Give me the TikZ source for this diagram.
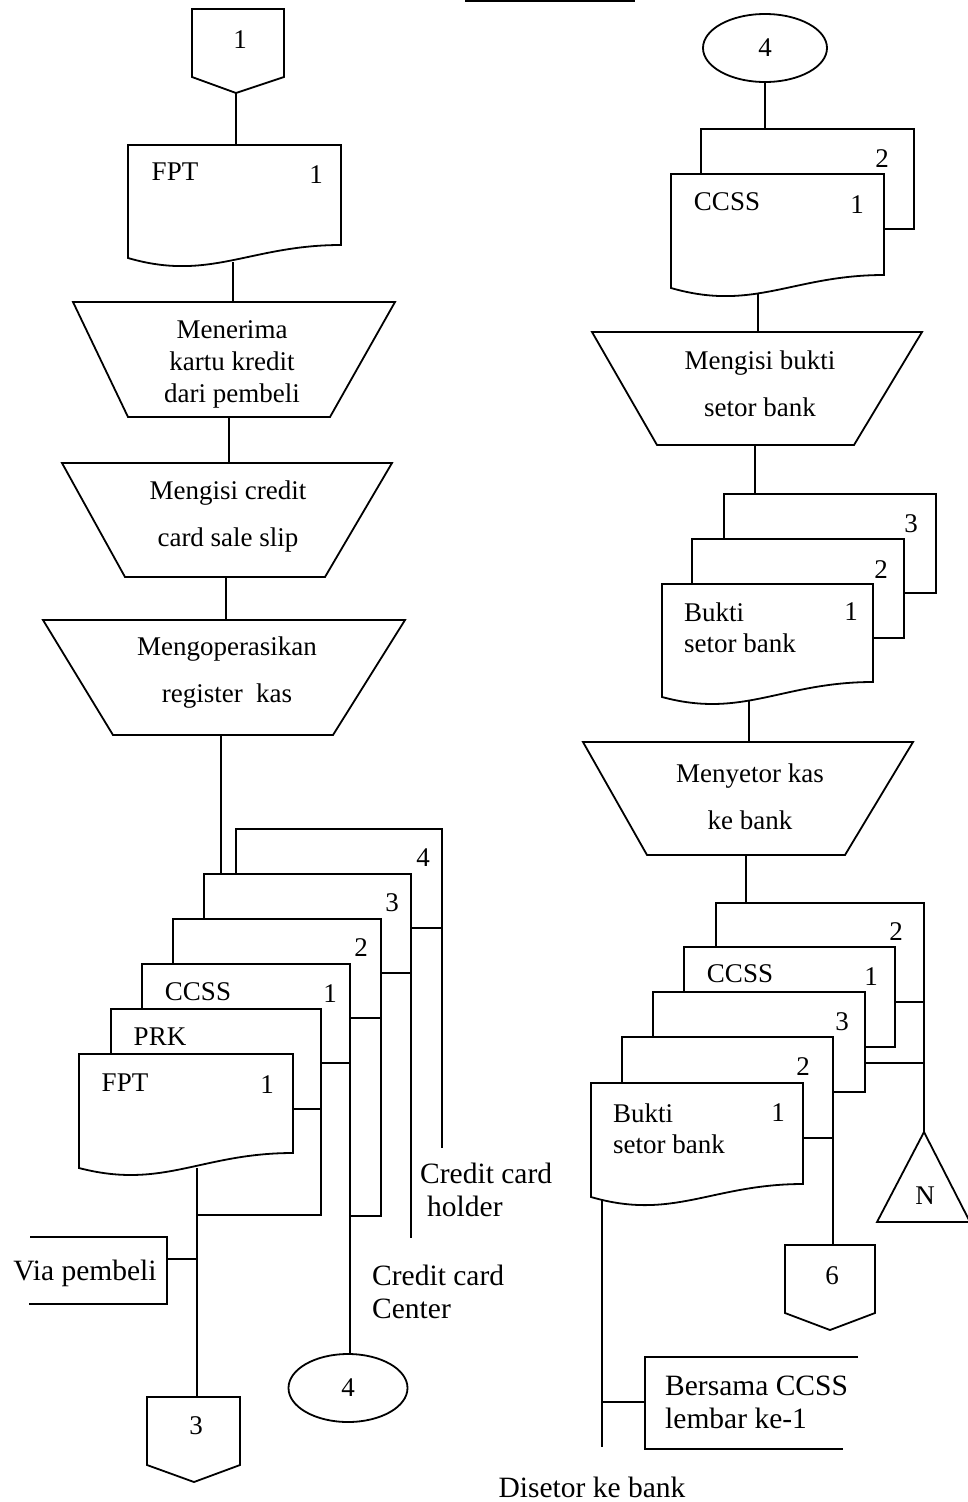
\documentclass[tikz,border=0pt]{standalone}
\usepackage{fontspec}
\setmainfont{Liberation Serif}
\usetikzlibrary{shapes.geometric}
\begin{document}
\begin{tikzpicture}[x=1pt,y=-1pt,
  outline/.style={draw=black, line width=1.8pt, fill=white, line join=miter},
  flow/.style={draw=black, line width=1.8pt},
  lbl/.style={font=\fontsize{27}{32}\selectfont, inner sep=0pt},
  proc/.style={font=\fontsize{27}{47}\selectfont, inner sep=0pt, align=center},
  proctall/.style={font=\fontsize{27}{32}\selectfont, inner sep=0pt, align=center},
  doctext/.style={font=\fontsize{27}{31}\selectfont, inner sep=0pt, align=left, anchor=west},
  note/.style={font=\fontsize{29.5}{33}\selectfont, inner sep=0pt, align=left},
  conn/.style={draw=black, line width=1.8pt, fill=white, ellipse, inner sep=0pt,
               font=\fontsize{27}{32}\selectfont}]
\useasboundingbox[fill=white] (0,0) rectangle (967,1502);

% heading rule at the top edge
\coordinate (rule-a) at (465,1);
\coordinate (rule-b) at (635,1);
\draw[line width=2.5pt] (rule-a) -- (rule-b);

% ---------------- anchor points, left column ----------------
\coordinate (p1-out)  at (236,93);
\coordinate (fa-in)   at (236,145);
\coordinate (fa-out)  at (233,262);
\coordinate (m1-in)   at (233,302);
\coordinate (m1-out)  at (229,417);
\coordinate (m2-in)   at (229,463);
\coordinate (m2-out)  at (226,577);
\coordinate (m3-in)   at (226,620);
\coordinate (m3-out)  at (221,735);
\coordinate (s3-in)   at (221,874);
\coordinate (s4-out)  at (442,928);
\coordinate (s4-end)  at (442,1148);
\coordinate (s3-out)  at (411,973);
\coordinate (s3-end)  at (411,1238);
\coordinate (s2-out)  at (381,1018);
\coordinate (s2-bend) at (381,1216);
\coordinate (s2-join) at (350,1216);
\coordinate (cc-out)  at (350,1063);
\coordinate (prk-out) at (321,1109);
\coordinate (prk-bend) at (321,1215);
\coordinate (prk-join) at (197,1215);
\coordinate (fb-out)  at (197,1168);
\coordinate (via-join) at (197,1259);
\coordinate (via-in)  at (168,1259);
\coordinate (p3-in)   at (197,1397);

% ---------------- anchor points, right column ----------------
\coordinate (cr-in)   at (765,129);
\coordinate (cr-out)  at (758,290);
\coordinate (m4-in)   at (758,332);
\coordinate (m4-out)  at (755,445);
\coordinate (b3-in)   at (755,494);
\coordinate (bm-out)  at (749,700);
\coordinate (m5-in)   at (749,742);
\coordinate (m5-out)  at (746,855);
\coordinate (q2-in)   at (746,903);
\coordinate (q2-out)  at (924,1002);
\coordinate (nN-in)   at (924,1132);
\coordinate (q3-out)  at (865,1063);
\coordinate (q3-join) at (924,1063);
\coordinate (q2b-out) at (833,1138);
\coordinate (p6-in)   at (833,1245);
\coordinate (bk-out)  at (602,1200);
\coordinate (bk-join) at (602,1402);
\coordinate (bk-end)  at (602,1447);
\coordinate (ber-in)  at (645,1402);

% connector ellipses
\node[conn, minimum width=119pt, minimum height=68pt] (e4b) at (348,1388) {4};
\node[conn, minimum width=124pt, minimum height=68pt] (e4a) at (765,48) {4};

% ---------------- flow lines ----------------
\draw[flow] (p1-out) -- (fa-in);
\draw[flow] (fa-out) -- (m1-in);
\draw[flow] (m1-out) -- (m2-in);
\draw[flow] (m2-out) -- (m3-in);
\draw[flow] (m3-out) -- (s3-in);
\draw[flow] (s4-out) -- (s4-end);
\draw[flow] (s3-out) -- (s3-end);
\draw[flow] (s2-out) -- (s2-bend) -- (s2-join);
\draw[flow] (cc-out) -- (cc-out |- e4b.north);
\draw[flow] (prk-out) -- (prk-bend) -- (prk-join);
\draw[flow] (fb-out) -- (p3-in);
\draw[flow] (via-join) -- (via-in);

\draw[flow] (e4a.south) -- (cr-in);
\draw[flow] (cr-out) -- (m4-in);
\draw[flow] (m4-out) -- (b3-in);
\draw[flow] (bm-out) -- (m5-in);
\draw[flow] (m5-out) -- (q2-in);
\draw[flow] (q2-out) -- (nN-in);
\draw[flow] (q3-out) -- (q3-join);
\draw[flow] (q2b-out) -- (p6-in);
\draw[flow] (bk-out) -- (bk-end);
\draw[flow] (bk-join) -- (ber-in);

% ---------------- left column shapes ----------------
% off-page connector 1
\draw[outline] (192,9) -- (284,9) -- (284,77) -- (p1-out) -- (192,77) -- cycle;
\node[lbl] (p1) at (240,40) {1};

% document FPT
\draw[outline] (128,145) -- (341,145) -- (341,245) .. controls (250,245) and (210,282) .. (128,258) -- cycle;
\node[lbl] (faT) at (175,172) {FPT};
\node[lbl] (faN) at (316,175) {1};

% manual operations
\draw[outline] (73,302) -- (395,302) -- (330,417) -- (128,417) -- cycle;
\node[proctall] (m1) at (232,364) {Menerima\\kartu kredit\\dari pembeli};
\draw[outline] (62,463) -- (392,463) -- (325,577) -- (125,577) -- cycle;
\node[proc] (m2) at (228,516) {Mengisi credit\\card sale slip};
\draw[outline] (43,620) -- (405,620) -- (333,735) -- (113,735) -- cycle;
\node[proc] (m3) at (227,673) {Mengoperasikan\\register\ \ kas};

% stacked copies
\draw[outline] (236,829) rectangle (442,928);
\node[lbl] (s4N) at (423,858) {4};
\draw[outline] (204,874) rectangle (411,973);
\node[lbl] (s3N) at (392,903) {3};
\draw[outline] (173,919) rectangle (381,1018);
\node[lbl] (s2N) at (361,948) {2};
\draw[outline] (142,964) rectangle (350,1063);
\node[lbl] (ccT) at (198,992) {CCSS};
\node[lbl] (ccN) at (330,994) {1};
\draw[outline] (111,1009) rectangle (321,1109);
\node[lbl] (prkT) at (160,1037) {PRK};
\draw[outline] (79,1054) -- (293,1054) -- (293,1153) .. controls (201,1153) and (163,1190) .. (79,1168) -- cycle;
\node[lbl] (fbT) at (125,1083) {FPT};
\node[lbl] (fbN) at (267,1085) {1};

% destinations
\node[note, anchor=west] (holder) at (420,1190) {Credit card\\\hspace*{7pt}holder};
\node[note, anchor=west] (center) at (372,1292) {Credit card\\Center};

% annotation
\draw[flow] (30,1237) -- (167,1237) -- (167,1304) -- (29,1304);
\node[note] (via) at (85,1273) {Via pembeli};

% off-page connector 3
\draw[outline] (147,1397) -- (240,1397) -- (240,1465) -- (194,1482) -- (147,1465) -- cycle;
\node[lbl] (p3) at (196,1426) {3};

% ---------------- right column shapes ----------------
\draw[outline] (701,129) rectangle (914,229);
\node[lbl] (crN2) at (882,159) {2};
\draw[outline] (671,174) -- (884,174) -- (884,275) .. controls (793,275) and (754,312) .. (671,288) -- cycle;
\node[lbl] (crT) at (727,202) {CCSS};
\node[lbl] (crN) at (857,205) {1};

\draw[outline] (592,332) -- (922,332) -- (854,445) -- (657,445) -- cycle;
\node[proc] (m4) at (760,384) {Mengisi bukti\\setor bank};

\draw[outline] (724,494) rectangle (936,593);
\node[lbl] (b3N) at (911,524) {3};
\draw[outline] (692,539) rectangle (904,638);
\node[lbl] (b2N) at (881,570) {2};
\draw[outline] (662,584) -- (873,584) -- (873,682) .. controls (782,682) and (743,719) .. (662,697) -- cycle;
\node[doctext] (bmT) at (684,628) {Bukti\\setor bank};
\node[lbl] (bmN) at (851,612) {1};

\draw[outline] (583,742) -- (913,742) -- (845,855) -- (647,855) -- cycle;
\node[proc] (m5) at (750,797) {Menyetor kas\\ke bank};

\draw[outline] (716,903) rectangle (924,1002);
\node[lbl] (q2N) at (896,932) {2};
\draw[outline] (684,947) rectangle (895,1047);
\node[lbl] (qcT) at (740,974) {CCSS};
\node[lbl] (qcN) at (871,977) {1};
\draw[outline] (653,992) rectangle (865,1092);
\node[lbl] (q3N) at (842,1022) {3};
\draw[outline] (622,1037) rectangle (833,1138);
\node[lbl] (q2bN) at (803,1067) {2};
\draw[outline] (591,1083) -- (803,1083) -- (803,1184) .. controls (712,1184) and (673,1221) .. (591,1197) -- cycle;
\node[doctext] (bkT) at (613,1129) {Bukti\\setor bank};
\node[lbl] (bkN) at (778,1113) {1};

% file N
\draw[outline] (nN-in) -- (970,1222) -- (877,1222) -- cycle;
\node[lbl] (nN) at (925,1196) {N};

% off-page connector 6
\draw[outline] (785,1245) -- (875,1245) -- (875,1313) -- (830,1330) -- (785,1313) -- cycle;
\node[lbl] (p6) at (832,1276) {6};

% annotation
\draw[flow] (858,1357) -- (645,1357) -- (645,1449) -- (843,1449);
\node[note, anchor=west] (ber) at (665,1402) {Bersama CCSS\\lembar ke-1};

\node[note] (disetor) at (592,1487) {Disetor ke bank};
\end{tikzpicture}
\end{document}
